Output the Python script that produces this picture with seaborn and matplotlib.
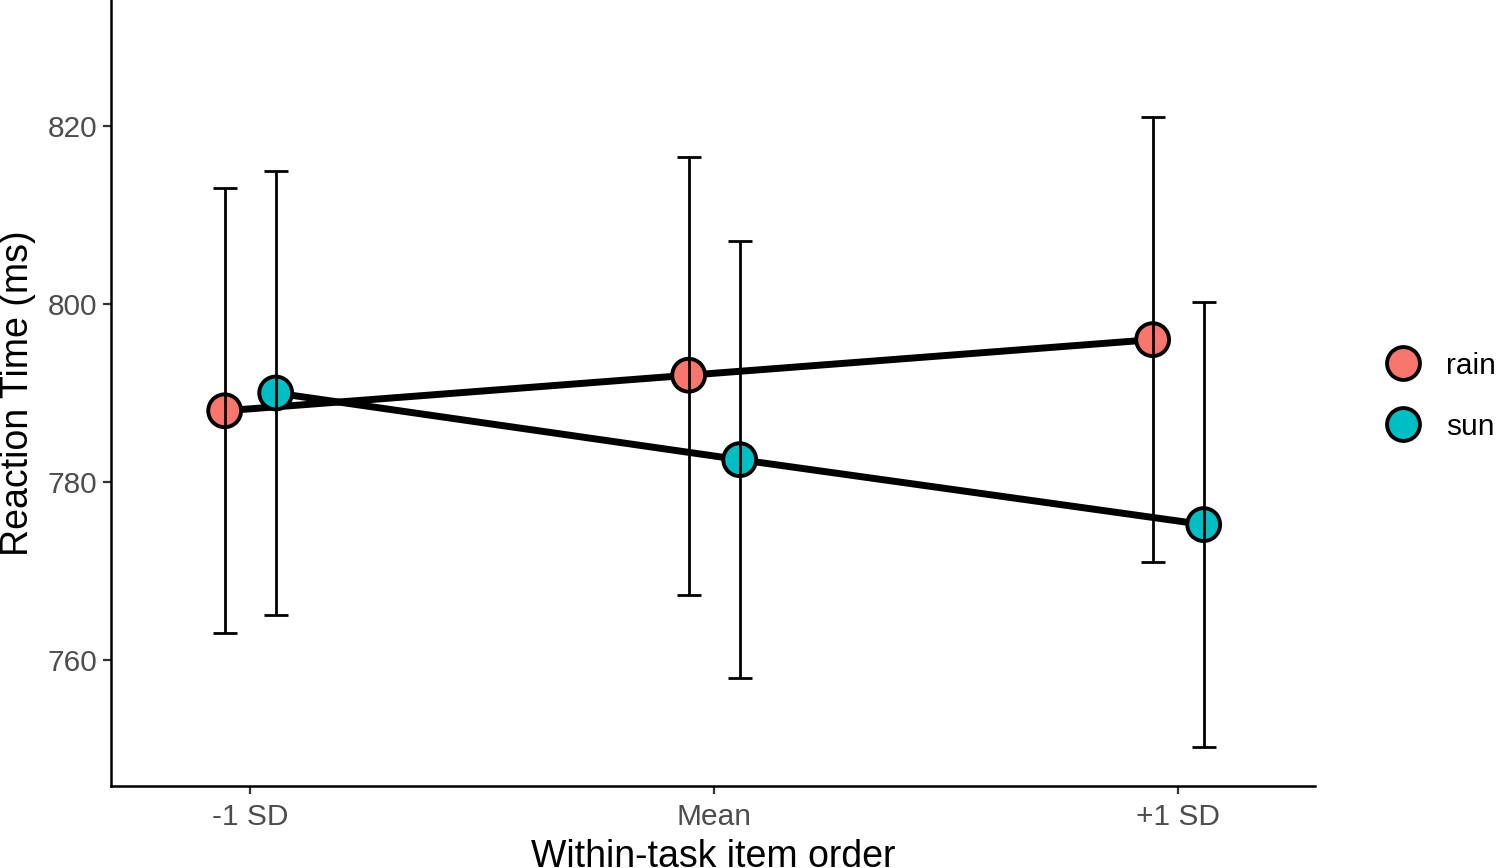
import numpy as np
import pandas as pd
import matplotlib
matplotlib.use("Agg")
import matplotlib.pyplot as plt
import seaborn as sns

# values
levels = ["-1 SD", "Mean", "+1 SD"]
groups = ["rain", "sun"]
rain_rt = [788.0, 792.0, 796.0]
rain_lo = [763.0, 767.3, 771.0]
rain_hi = [813.0, 816.5, 821.0]
sun_rt = [790.0, 782.5, 775.2]
sun_lo = [765.0, 758.0, 750.2]
sun_hi = [815.0, 807.1, 800.2]

palette = {"rain": "#F8766D", "sun": "#00BFC4"}
dodge = {"rain": -0.055, "sun": 0.055}

rows = []
for g, rt, lo, hi in [("rain", rain_rt, rain_lo, rain_hi), ("sun", sun_rt, sun_lo, sun_hi)]:
    for i, lev in enumerate(levels):
        rows.append({"group": g, "level": lev, "xpos": i + dodge[g],
                     "rt": rt[i], "lo": lo[i], "hi": hi[i]})
df = pd.DataFrame(rows)

sns.set_style("white")
plt.rcParams["font.family"] = ["Liberation Sans", "DejaVu Sans"]

fig = plt.figure(figsize=(15, 8.68), dpi=100)
ax = fig.add_axes([0.074, 0.0945, 0.8027, 0.9055])

sns.lineplot(data=df, x="xpos", y="rt", units="group", estimator=None,
             color="black", linewidth=5.0, ax=ax, legend=False, zorder=1)
sns.scatterplot(data=df, x="xpos", y="rt", hue="group", hue_order=groups,
                palette=palette, s=560, edgecolor="black", linewidth=2.8,
                ax=ax, zorder=2)
ax.errorbar(df["xpos"], df["rt"],
            yerr=[df["rt"] - df["lo"], df["hi"] - df["rt"]],
            fmt="none", ecolor="black", elinewidth=2.0, capsize=8.3,
            capthick=2.0, zorder=3)

ax.set_xlim(-0.3, 2.295)
ax.set_ylim(745.8, 834.2)
ax.set_xticks(range(len(levels)))
ax.set_xticklabels(levels)
ax.set_yticks([760, 780, 800, 820])
ax.tick_params(axis="both", labelsize=21.5, labelcolor="#4D4D4D",
               length=6, width=1.6, color="#333333", direction="out",
               bottom=True, left=True, pad=4)
ax.tick_params(axis="x", pad=6)
ax.set_xlabel("Within-task item order", fontsize=27, color="black", labelpad=6)
ax.set_ylabel("Reaction Time (ms)", fontsize=27, color="black", labelpad=8)

for side in ["top", "right"]:
    ax.spines[side].set_visible(False)
for side in ["left", "bottom"]:
    ax.spines[side].set_linewidth(1.8)
    ax.spines[side].set_color("black")

handles, labels = ax.get_legend_handles_labels()
leg = ax.legend(handles, labels, loc="center left", bbox_to_anchor=(1.038, 0.496),
                frameon=False, fontsize=21.5, handletextpad=0.45, labelspacing=1.1,
                markerscale=1.0, borderaxespad=0)
for t in leg.get_texts():
    t.set_color("black")

fig.savefig("out.png", dpi=100)
